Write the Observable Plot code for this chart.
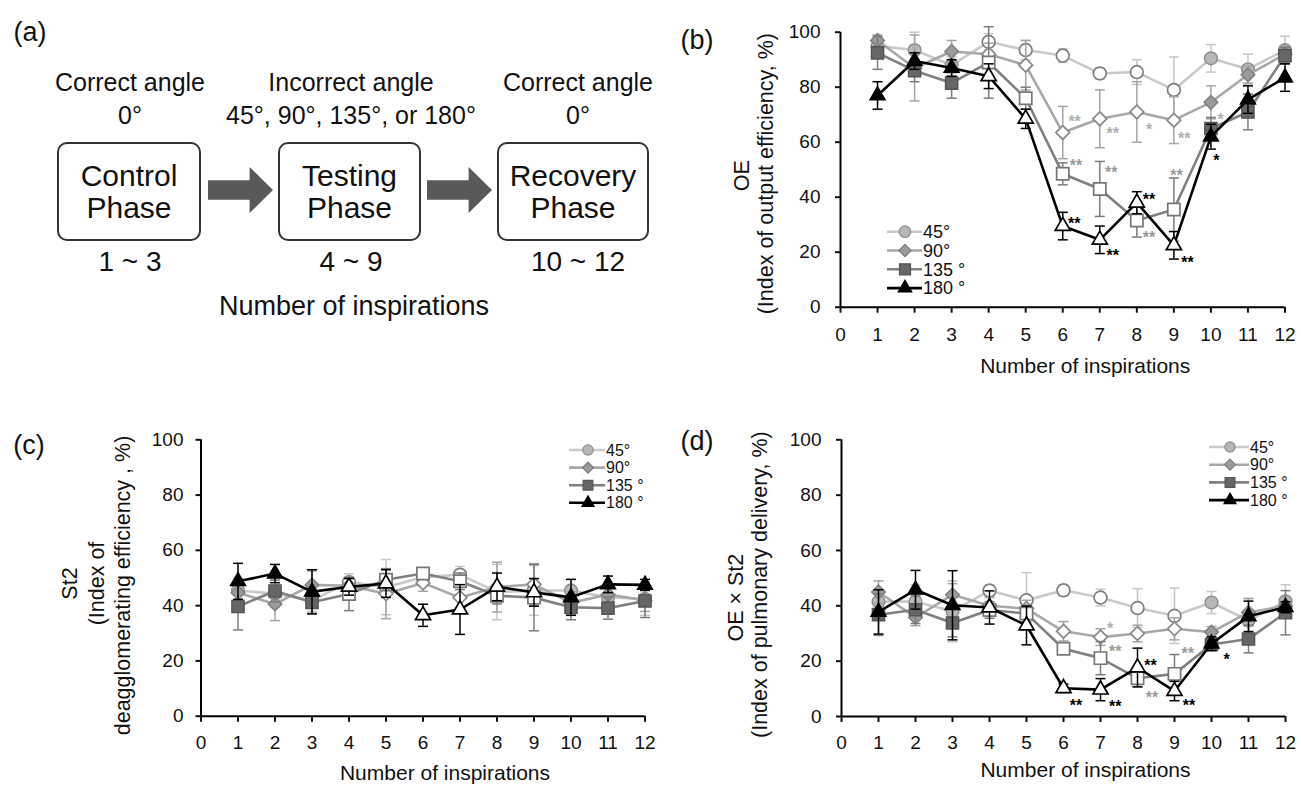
<!DOCTYPE html>
<html>
<head>
<meta charset="utf-8">
<script src="https://cdn.jsdelivr.net/npm/d3@7"></script>
<script src="https://cdn.jsdelivr.net/npm/@observablehq/plot@0.6"></script>
<style>
  html, body { margin: 0; padding: 0; background: #fff; }
  #fig { position: relative; width: 1301px; height: 786px; overflow: hidden;
         font-family: "Liberation Sans", Arial, sans-serif; color: #111; background: #fff; }
  #fig .abs { position: absolute; }
</style>
</head>
<body>
<div id="fig"></div>
<script>
// ---------------- DATA ----------------
const inspirations = [1, 2, 3, 4, 5, 6, 7, 8, 9, 10, 11, 12];
const xTicks = [0, 1, 2, 3, 4, 5, 6, 7, 8, 9, 10, 11, 12];
const yTicks = [0, 20, 40, 60, 80, 100];
const angleSeries = ["45°", "90°", "135°", "180°"];
const legendLabels = ["45°", "90°", "135 °", "180 °"];
const testingPhase = [4, 9];

// Panel (a) diagram text
const angleTitles = ["Correct angle", "Incorrect angle", "Correct angle"];
const angleValues = ["0°", "45°, 90°, 135°, or 180°", "0°"];
const phaseNames = ["Control\nPhase", "Testing\nPhase", "Recovery\nPhase"];
const inspirationRanges = ["1 ~ 3", "4 ~ 9", "10 ~ 12"];
const xAxisTitle = "Number of inspirations";

// Panel (b) OE (%)
const oe45  = [95, 93.5, 88, 96.5, 93.5, 91.5, 85, 85.5, 79, 90.5, 86.5, 93.5];
const oe90  = [97, 87, 93, 92, 88, 63.5, 68.5, 71, 68, 74.5, 84.5, 92];
const oe135 = [92.5, 86, 81.5, 89, 76, 48.5, 43, 31.5, 35.5, 65, 71, 91.5];
const oe180 = [77, 89.5, 87, 84, 68.5, 29.5, 24.5, 38, 22.5, 62, 75.5, 83.5];
const oeSd45  = [3, 6.5, 3, 3, 3.5, 2.5, 2, 4.5, 12, 5, 5.5, 5];
const oeSd90  = [2, 12, 4, 4, 9, 9.5, 10.5, 11, 8.5, 6, 3, 3];
const oeSd135 = [6, 4, 5.5, 13, 4, 4, 10, 6, 11.5, 4, 6.5, 3];
const oeSd180 = [5, 3, 3, 4.5, 3.5, 5, 5, 4, 5, 4.5, 5, 5];
const oeStars = [
  {series: "90°", x: 6.32, y: 68.9, label: "**"},
  {series: "90°", x: 7.35, y: 64.5, label: "**"},
  {series: "90°", x: 8.33, y: 66, label: "*"},
  {series: "90°", x: 9.28, y: 62.8, label: "**"},
  {series: "90°", x: 10.26, y: 69.7, label: "*"},
  {series: "135°", x: 6.36, y: 53, label: "**"},
  {series: "135°", x: 7.31, y: 50.3, label: "**"},
  {series: "135°", x: 8.33, y: 26.7, label: "**"},
  {series: "135°", x: 9.07, y: 49.1, label: "**"},
  {series: "180°", x: 6.31, y: 31.9, label: "**"},
  {series: "180°", x: 7.35, y: 20, label: "**"},
  {series: "180°", x: 8.33, y: 40.4, label: "**"},
  {series: "180°", x: 9.37, y: 17.6, label: "**"},
  {series: "180°", x: 10.15, y: 54.5, label: "*"}
];

// Panel (c) St2 (%)
const st45  = [45.5, 44.3, 41.9, 48.5, 46.7, 50.3, 51.2, 44.9, 45.5, 45.5, 43, 42.5];
const st90  = [44.7, 40.6, 47.5, 47.2, 44.3, 48.2, 42.9, 46.7, 47.7, 41, 44, 41.9];
const st135 = [39.7, 45.3, 41.2, 44.2, 49.4, 51.6, 48.8, 43.6, 42.9, 39.4, 39.1, 41.7];
const st180 = [48.8, 51.6, 45, 46.8, 48, 36.5, 38.6, 46.8, 44.8, 43, 47.7, 47.5];
const stSd45  = [4, 5, 4, 3, 10, 3, 3, 10, 9, 4, 4, 6];
const stSd90  = [5, 6, 5, 3, 9, 3, 4, 9, 7.5, 4, 3, 4];
const stSd135 = [8.5, 4, 4, 6, 4, 2, 3, 3, 12, 4.5, 4, 6];
const stSd180 = [6.5, 3.3, 8, 3, 5, 4, 9, 5, 5, 6.5, 3, 2];

// Panel (d) OE x St2 (%)
const pd45  = [41.5, 41.5, 38, 45.5, 42, 45.6, 43, 39.2, 36.4, 41.2, 34.7, 41.6];
const pd90  = [45, 35.8, 44, 40, 39, 30.8, 28.7, 30, 31.7, 30.5, 37.6, 40];
const pd135 = [36.8, 38.6, 33.8, 38.5, 37.2, 24.5, 21.1, 13.8, 15.4, 26, 28, 37.5];
const pd180 = [37.8, 45.8, 40.2, 39.4, 32.9, 10.2, 9.7, 17.7, 9.2, 26.3, 36.2, 39.5];
const pdSd45  = [4, 6, 11, 2, 10, 2, 3, 7, 10, 4, 8, 6];
const pdSd90  = [4, 3, 4, 3, 3, 3.5, 3, 3, 4, 2, 5, 3];
const pdSd135 = [7.5, 5, 5, 3, 3, 2, 6, 3, 7, 2, 5, 8];
const pdSd180 = [8, 7, 12.5, 6, 7, 1.5, 4, 7, 3.5, 2.5, 5.5, 2];
const pdStars = [
  {series: "90°", x: 7.26, y: 33.1, label: "*"},
  {series: "135°", x: 7.4, y: 24.8, label: "**"},
  {series: "135°", x: 8.39, y: 8.2, label: "**"},
  {series: "135°", x: 9.36, y: 23.9, label: "**"},
  {series: "180°", x: 6.34, y: 5.4, label: "**"},
  {series: "180°", x: 7.4, y: 4.9, label: "**"},
  {series: "180°", x: 8.35, y: 19.9, label: "**"},
  {series: "180°", x: 9.39, y: 5.2, label: "**"},
  {series: "180°", x: 10.41, y: 22, label: "*"}
];

// ---------------- STYLES ----------------
const FONT = "'Liberation Sans', Arial, sans-serif";
const lineColors   = ["#c9c9c9", "#a8a8a8", "#808080", "#000000"];
const errColors    = ["#c6c6c6", "#a4a4a4", "#7c7c7c", "#000000"];
const fillColors   = ["#b7b7b7", "#9b9b9b", "#666666", "#000000"];
const strokeColors = ["#8c8c8c", "#7d7d7d", "#555555", "#000000"];
const openStrokes  = ["#7f7f7f", "#888888", "#777777", "#000000"];
const starColors   = {"90°": "#b0b0b0", "135°": "#9a9a9a", "180°": "#000000"};
const plotSymbols  = ["circle", "diamond2", "square", "triangle"];
const d3Symbols    = [d3.symbolCircle, d3.symbolDiamond2, d3.symbolSquare, d3.symbolTriangle];
const radii        = [6.4, 6.2, 6.9, 5.6];

const fig = document.getElementById("fig");

function addText(text, cx, cy, size, extra = {}) {
  const d = document.createElement("div");
  d.className = "abs";
  d.textContent = text;
  Object.assign(d.style, {
    left: (cx - 250) + "px", width: "500px", textAlign: "center",
    top: (cy - size * 0.6) + "px", lineHeight: (size * 1.2) + "px",
    fontSize: size + "px", whiteSpace: "pre"
  }, extra);
  fig.appendChild(d);
  return d;
}

// ---------------- PANEL (a) ----------------
const colCenters = [130, 351, 578];
const boxLefts = [57, 278, 497];
const boxWidths = [144, 143, 152];
angleTitles.forEach((t, i) => addText(t, colCenters[i], 82, 25));
angleValues.forEach((t, i) => addText(t, colCenters[i], 115, 25));
inspirationRanges.forEach((t, i) => addText(t, colCenters[i], 262, 28));
phaseNames.forEach((t, i) => {
  const b = document.createElement("div");
  b.className = "abs";
  Object.assign(b.style, {
    left: boxLefts[i] + "px", top: "142px", width: (boxWidths[i] - 4) + "px", height: "95px",
    border: "2px solid #333", borderRadius: "10px", display: "flex",
    alignItems: "center", justifyContent: "center", textAlign: "center",
    fontSize: "30px", lineHeight: "32px", whiteSpace: "pre", background: "#fff"
  });
  b.textContent = t;
  fig.appendChild(b);
});
[208, 427].forEach(x => {
  const a = document.createElement("div");
  a.className = "abs";
  Object.assign(a.style, {
    left: x + "px", top: "167px", width: "65px", height: "46px", background: "#595959",
    clipPath: "polygon(0 29%, 64% 29%, 64% 0, 100% 50%, 64% 100%, 64% 71%, 0 71%)"
  });
  fig.appendChild(a);
});
addText(xAxisTitle, 354, 306, 27);

// panel letters
addText("(a)", 30, 32, 27);
addText("(b)", 697, 40, 27);
addText("(c)", 29, 445, 27);
addText("(d)", 697, 441, 27);

// ---------------- LINE PANELS ----------------
const capSymbol = {
  draw(ctx) { ctx.moveTo(-5, 0); ctx.lineTo(5, 0); }
};

function linePanel(cfg) {
  const marks = [];
  angleSeries.forEach((name, i) => {
    const data = inspirations.map((x, j) => ({x, v: cfg.values[i][j], sd: cfg.sds[i][j]}));
    const isOpen = d => d.x >= testingPhase[0] && d.x <= testingPhase[1];
    marks.push(Plot.ruleX(data, {x: "x", y1: d => d.v - d.sd, y2: d => d.v + d.sd,
      stroke: errColors[i], strokeWidth: 1.5}));
    marks.push(Plot.dot(data, {x: "x", y: d => d.v + d.sd, symbol: capSymbol, r: 5,
      fill: "none", stroke: errColors[i], strokeWidth: 1.5}));
    marks.push(Plot.dot(data, {x: "x", y: d => d.v - d.sd, symbol: capSymbol, r: 5,
      fill: "none", stroke: errColors[i], strokeWidth: 1.5}));
    marks.push(Plot.line(data, {x: "x", y: "v", stroke: lineColors[i], strokeWidth: 2.6}));
    marks.push(Plot.dot(data.filter(d => !isOpen(d)), {x: "x", y: "v", symbol: plotSymbols[i],
      r: radii[i], fill: fillColors[i], stroke: strokeColors[i], strokeWidth: 1.4}));
    marks.push(Plot.dot(data.filter(isOpen), {x: "x", y: "v", symbol: plotSymbols[i],
      r: radii[i], fill: "#ffffff", stroke: openStrokes[i], strokeWidth: 1.7}));
  });
  angleSeries.forEach(name => {
    const s = cfg.stars.filter(d => d.series === name);
    if (s.length) marks.push(Plot.text(s, {x: "x", y: "y", text: "label", fill: starColors[name],
      fontSize: 16, fontWeight: "bold", dy: 4}));
  });
  marks.push(Plot.ruleX([0], {y1: 0, y2: 100, stroke: "#000", strokeWidth: 2}));
  marks.push(Plot.ruleY([0], {x1: 0, x2: 12, stroke: "#000", strokeWidth: 2}));
  marks.push(Plot.axisY({ticks: yTicks, tickSize: 5, tickPadding: cfg.yPad, fontSize: 19,
    strokeWidth: 2, label: null, tickFormat: d => String(d)}));
  marks.push(Plot.axisX({ticks: xTicks, tickSize: 6, tickPadding: cfg.xPad, fontSize: 19,
    strokeWidth: 2, label: null, tickFormat: d => String(d)}));
  cfg.yTitles.forEach(t => marks.push(Plot.text([t.text], {frameAnchor: "left", text: d => d,
    rotate: -90, textAnchor: "middle", lineAnchor: "middle", dx: t.dx, dy: t.dy,
    fontSize: 21.5, fill: "#111"})));
  marks.push(Plot.text([xAxisTitle], {frameAnchor: "bottom", text: d => d, dx: cfg.xTitle.dx,
    dy: cfg.xTitle.dy, textAnchor: "middle", lineAnchor: "middle", fontSize: 21, fill: "#111"}));

  const svg = Plot.plot({
    width: cfg.width, height: cfg.height,
    marginLeft: cfg.m[0], marginRight: cfg.m[1], marginTop: cfg.m[2], marginBottom: cfg.m[3],
    x: {domain: [0, 12]}, y: {domain: [0, 100]},
    style: {fontFamily: FONT, color: "#111", background: "transparent", overflow: "visible"},
    marks
  });
  const wrap = document.createElement("div");
  wrap.className = "abs";
  wrap.style.left = cfg.left + "px";
  wrap.style.top = cfg.top + "px";
  wrap.appendChild(svg);
  fig.appendChild(wrap);
}

linePanel({
  values: [oe45, oe90, oe135, oe180], sds: [oeSd45, oeSd90, oeSd135, oeSd180], stars: oeStars,
  left: 690, top: 0, width: 611, height: 390, m: [150, 16.5, 31.7, 83.3],
  yPad: 15, xPad: 14,
  yTitles: [{text: "OE", dx: -98, dy: 6}, {text: "(Index of output efficiency, %)", dx: -74, dy: 4}],
  xTitle: {dx: 22.5, dy: 59}
});
linePanel({
  values: [st45, st90, st135, st180], sds: [stSd45, stSd90, stSd135, stSd180], stars: [],
  left: 0, top: 400, width: 680, height: 386, m: [200.5, 35.5, 39.3, 70.3],
  yPad: 12.5, xPad: 13,
  yTitles: [{text: "St2", dx: -130.5, dy: 5.5}, {text: "(Index of", dx: -104, dy: 5.5},
            {text: "deagglomerating efficiency , %)", dx: -77.5, dy: 7.5}],
  xTitle: {dx: 22, dy: 57}
});
linePanel({
  values: [pd45, pd90, pd135, pd180], sds: [pdSd45, pdSd90, pdSd135, pdSd180], stars: pdStars,
  left: 690, top: 400, width: 611, height: 386, m: [151, 16, 39.3, 70],
  yPad: 15, xPad: 13,
  yTitles: [{text: "OE × St2", dx: -105, dy: 19.5}, {text: "(Index of pulmonary delivery, %)", dx: -81, dy: 6.5}],
  xTitle: {dx: 22, dy: 54}
});

// ---------------- LEGENDS ----------------
function legend(cfg) {
  const svg = d3.create("svg").attr("width", 1301).attr("height", 786)
    .attr("class", "abs").style("left", "0px").style("top", "0px")
    .style("pointer-events", "none").style("font-family", FONT);
  angleSeries.forEach((name, i) => {
    const y = cfg.y0 + i * cfg.gap;
    svg.append("line").attr("x1", cfg.x0).attr("x2", cfg.x1).attr("y1", y).attr("y2", y)
      .attr("stroke", lineColors[i]).attr("stroke-width", 2.6);
    const r = radii[i] * cfg.scale;
    svg.append("path").attr("d", d3.symbol(d3Symbols[i], Math.PI * r * r)())
      .attr("transform", `translate(${cfg.xm},${y})`)
      .attr("fill", fillColors[i]).attr("stroke", strokeColors[i]).attr("stroke-width", 1.2);
    svg.append("text").attr("x", cfg.xt).attr("y", y).attr("dy", "0.35em")
      .attr("font-size", cfg.fontSize).attr("fill", "#111").text(legendLabels[i]);
  });
  fig.appendChild(svg.node());
}
legend({x0: 887, x1: 922, xm: 905, xt: 923, y0: 231.7, gap: 18.8, fontSize: 18, scale: 0.9});
legend({x0: 569, x1: 605, xm: 588, xt: 606, y0: 450, gap: 17.6, fontSize: 16, scale: 0.8});
legend({x0: 1209, x1: 1249, xm: 1230, xt: 1250, y0: 447, gap: 17.7, fontSize: 16, scale: 0.8});
</script>
</body>
</html>
